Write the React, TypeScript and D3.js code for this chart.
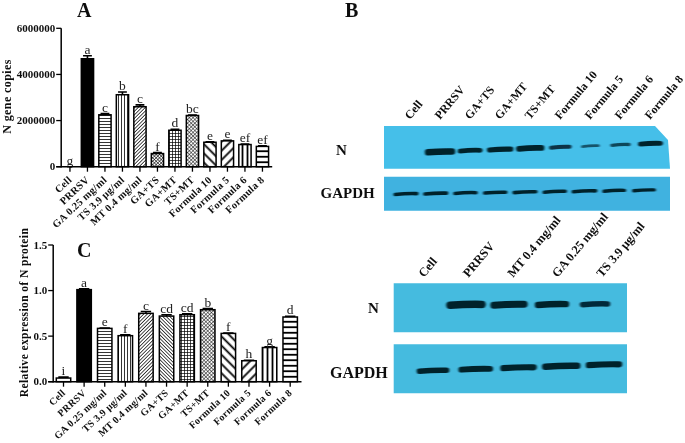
import React from "react";
import * as d3 from "d3";

const categories = ["Cell","PRRSV","GA 0.25 mg/ml","TS 3.9 μg/ml","MT 0.4  mg/ml","GA+TS","GA+MT","TS+MT","Formula 10","Formula 5","Formula 6","Formula 8"];
const valuesA = [0,4680000,2250000,3120000,2600000,570000,1580000,2220000,1060000,1120000,960000,880000];
const errorsA = [0,130000,50000,120000,80000,40000,40000,20000,20000,20000,20000,30000];
const lettersA = ["g","a","c","b","c","f","d","bc","e","e","ef","ef"];
const ticksA = [0,2000000,4000000,6000000];
const valuesC = [0.04,1.01,0.585,0.505,0.75,0.72,0.735,0.79,0.53,0.23,0.375,0.71];
const errorsC = [0.01,0.01,0.005,0.01,0.02,0.015,0.01,0.012,0.005,0.005,0.008,0.008];
const lettersC = ["i","a","e","f","c","cd","cd","b","f","h","g","d"];
const ticksC = [0,0.5,1,1.5];
const patternsA = ["none","solid","hLines","vLines","diagDense","dots","grid","cross","wideBack","wideFwd","thickV","thickH"];
const patternsC = ["none","solid","hLines","vLines","diagDense","backDense","grid","cross","wideBack","wideFwd","thickV","thickH"];

const lanesB = ["Cell","PRRSV","GA+TS","GA+MT","TS+MT","Formula 10","Formula 5","Formula 6","Formula 8"];
const signalB = [0,1,0.62,0.72,0.85,0.45,0.18,0.3,0.62];
const loadB = [0.72,0.72,0.7,0.7,0.72,0.7,0.74,0.68,0.68];
const lanesD = ["Cell","PRRSV","MT 0.4 mg/ml","GA 0.25 mg/ml","TS 3.9 μg/ml"];
const signalD = [0,1,0.88,0.72,0.5];
const loadD = [0.85,0.9,0.95,1,0.95];

const FONT = "'Liberation Serif', serif";

function fillFor(p: string) {
  if (p === "none") return "#fff";
  if (p === "solid") return "#000";
  return `url(#${p})`;
}

function Bars({ values, errors, letters, ticks, patterns, x0, x1, y0, y1, max, fmt, title, titleX, titleY, yLabel, yLabelX, yLabelSize, tickSize, yLabelCy, labelDy }: any) {
  const x = d3.scaleBand<string>().domain(categories).range([x0, x1]).paddingInner(0.3).paddingOuter(0.15);
  const y = d3.scaleLinear().domain([0, max]).range([y0, y1]);
  const bw = x.bandwidth();
  return (
    <g fontFamily={FONT}>
      {values.map((v: number, i: number) => {
        const c = categories[i];
        const X = x(c)!;
        const top = y(v + errors[i]);
        const cx = X + bw / 2;
        return (
          <g key={c}>
            {errors[i] > 0 && <path d={`M${cx},${y(v)}V${top}M${cx - bw * 0.36},${top}H${cx + bw * 0.36}`} stroke="#000" strokeWidth={1.6} fill="none" />}
            <rect x={X} y={y(v)} width={bw} height={y0 - y(v)} fill={fillFor(patterns[i])} stroke="#000" strokeWidth={1.5} />
            <text x={cx} y={top - 2} textAnchor="middle" fontSize={13.5} fill="#222">{letters[i]}</text>
            <text transform={`translate(${cx + 2.5},${y0 + labelDy}) rotate(-43)`} textAnchor="end" fontSize={tickSize} fontWeight="bold" letterSpacing={0.25} fill="#111">{c}</text>
            <line x1={cx} x2={cx} y1={y0} y2={y0 + 5} stroke="#000" strokeWidth={1.3} />
          </g>
        );
      })}
      <line x1={x0} x2={x0} y1={y1} y2={y0 + 0.7} stroke="#000" strokeWidth={1.5} />
      <line x1={x0 - 5} x2={x1 + 1} y1={y0} y2={y0} stroke="#000" strokeWidth={1.5} />
      {ticks.map((t: number) => (
        <g key={t}>
          <line x1={x0 - 5} x2={x0} y1={y(t)} y2={y(t)} stroke="#000" strokeWidth={1.3} />
          <text x={x0 - 6} y={y(t) + 3.6} textAnchor="end" fontSize={11} fontWeight="bold" fill="#111">{fmt(t)}</text>
        </g>
      ))}
      <text transform={`translate(${yLabelX},${yLabelCy}) rotate(-90)`} textAnchor="middle" fontSize={yLabelSize} fontWeight="bold" letterSpacing={0.4} fill="#111">{yLabel}</text>
      <text x={titleX} y={titleY} fontSize={20} fontWeight="bold" fill="#111">{title}</text>
    </g>
  );
}

function Blot({ x0, x1, y0, y1, lanes, signal, laneFrom, laneTo, yFrom, yTo, wMin, wMax, tMin, tMax, color, notch }: any) {
  const lx = d3.scalePoint<string>().domain(lanes).range([laneFrom, laneTo]);
  const ly = d3.scaleLinear().domain([0, lanes.length - 1]).range([yFrom, yTo]);
  const wid = d3.scaleLinear().domain([0, 1]).range([wMin, wMax]);
  const thick = d3.scaleLinear().domain([0, 1]).range([tMin, tMax]);
  const dark = d3.scaleLinear().domain([0.1, 0.6]).range([0.6, 1]).clamp(true);
  const bg = notch
    ? `M${x0},${y0}H${x1 - 15}L${x1 - 2},${y0 + 14}L${x1},${y1}H${x0}Z`
    : `M${x0},${y0}H${x1}V${y1}H${x0}Z`;
  return (
    <g>
      <path d={bg} fill={color} />
      {lanes.map((l: string, i: number) => {
        const s = signal[i];
        if (s <= 0) return null;
        const cx = lx(l)!;
        const cy = ly(i);
        const w = wid(s) / 2;
        const t = thick(s);
        return <path key={l} d={`M${cx - w},${cy + 0.5}Q${cx},${cy - 0.7} ${cx + w},${cy - 0.4}`} stroke="#03202c" strokeOpacity={dark(s)} strokeWidth={t} strokeLinecap="round" fill="none" filter="url(#bandBlur)" />;
      })}
    </g>
  );
}

function LaneLabels({ labels, from, to, y, rot, size }: any) {
  const lx = d3.scalePoint<string>().domain(labels).range([from, to]);
  return (
    <g fontFamily={FONT} fontWeight="bold" fontSize={size} fill="#111">
      {labels.map((l: string) => (
        <text key={l} transform={`translate(${lx(l)},${y}) rotate(${rot})`}>{l}</text>
      ))}
    </g>
  );
}

function Pattern({ id, size, d, sw, angle }: any) {
  return (
    <pattern id={id} width={size} height={size} patternUnits="userSpaceOnUse" patternTransform={angle ? `rotate(${angle})` : undefined}>
      <rect width={size} height={size} fill="#fff" />
      <path d={d} stroke="#000" strokeWidth={sw} fill="none" />
    </pattern>
  );
}

export default function App() {
  return (
    <svg width={685} height={443} style={{ position: "absolute", left: 0, top: 0, background: "#fff" }}>
      <defs>
        <filter id="bandBlur" filterUnits="userSpaceOnUse" x="0" y="0" width="685" height="443"><feGaussianBlur stdDeviation="0.9 0.6" /></filter>
        <filter id="soft" filterUnits="userSpaceOnUse" x="0" y="0" width="685" height="443"><feGaussianBlur stdDeviation="0.35" /></filter>
        <Pattern id="hLines" size={3} d="M0,1.5H3" sw={0.8} />
        <Pattern id="vLines" size={3} d="M1.5,0V3" sw={0.8} />
        <Pattern id="diagDense" size={2.5} d="M1.25,0V2.5" sw={0.7} angle={45} />
        <Pattern id="backDense" size={2.5} d="M1.25,0V2.5" sw={0.7} angle={-45} />
        <Pattern id="dots" size={2.4} d="M1.2,0V2.4M0,1.2H2.4" sw={0.55} angle={45} />
        <Pattern id="grid" size={3} d="M1.5,0V3M0,1.5H3" sw={0.7} />
        <Pattern id="cross" size={2.6} d="M1.3,0V2.6M0,1.3H2.6" sw={0.5} angle={45} />
        <Pattern id="wideBack" size={6.5} d="M3.25,0V6.5" sw={1.8} angle={-45} />
        <Pattern id="wideFwd" size={6.5} d="M3.25,0V6.5" sw={1.8} angle={45} />
        <Pattern id="thickV" size={5} d="M2.5,0V5" sw={1.8} />
        <Pattern id="thickH" size={5.5} d="M0,2.75H5.5" sw={1.8} />
      </defs>
      <g filter="url(#soft)">
        <Bars values={valuesA} errors={errorsA} letters={lettersA} ticks={ticksA} patterns={patternsA} x0={61.2} x1={271.2} y0={166.7} y1={28.3} max={6000000} fmt={(t: number) => String(t)} title="A" titleX={77} titleY={17} yLabel="N gene copies" yLabelX={11} yLabelCy={96.5} yLabelSize={12} tickSize={10.4} labelDy={14} />
        <Bars values={valuesC} errors={errorsC} letters={lettersC} ticks={ticksC} patterns={patternsC} x0={53.2} x1={300.5} y0={381.7} y1={245} max={1.5} fmt={(t: number) => t.toFixed(1)} title="C" titleX={77} titleY={257} yLabel="Relative expression of N protein" yLabelX={28} yLabelCy={312.5} yLabelSize={11.5} tickSize={10} labelDy={12} />

        <text x={345} y={17} fontFamily={FONT} fontSize={20} fontWeight="bold" fill="#111">B</text>
        <LaneLabels labels={lanesB} from={410} to={650} y={120} rot={-50} size={11.8} />
        <Blot x0={384} x1={670} y0={126} y1={168.7} lanes={lanesB} signal={signalB} laneFrom={410} laneTo={650.5} yFrom={153} yTo={143.7} wMin={14} wMax={24} tMin={2} tMax={6.5} color="#44bfe9" notch />
        <Blot x0={384} x1={670} y0={176.7} y1={210.7} lanes={lanesB} signal={loadB} laneFrom={406} laneTo={644} yFrom={194} yTo={190.3} wMin={0} wMax={30} tMin={0} tMax={5} color="#3fb2e0" />
        <text x={336} y={155} fontFamily={FONT} fontSize={15} fontWeight="bold" fill="#111">N</text>
        <text x={320.5} y={198} fontFamily={FONT} fontSize={15} fontWeight="bold" fill="#111">GAPDH</text>

        <LaneLabels labels={lanesD} from={424} to={602} y={278} rot={-50} size={12.4} />
        <Blot x0={393.7} x1={627} y0={283.3} y1={332.3} lanes={lanesD} signal={signalD} laneFrom={423} laneTo={595} yFrom={305} yTo={304.3} wMin={18} wMax={32} tMin={3.5} tMax={7.5} color="#45bbdf" />
        <Blot x0={393.7} x1={627} y0={344.3} y1={393.3} lanes={lanesD} signal={loadD} laneFrom={433} laneTo={604} yFrom={370.7} yTo={364.7} wMin={0} wMax={32} tMin={0} tMax={6.5} color="#45bbdf" />
        <text x={368} y={313} fontFamily={FONT} fontSize={15} fontWeight="bold" fill="#111">N</text>
        <text x={330} y={378} fontFamily={FONT} fontSize={16} fontWeight="bold" fill="#111">GAPDH</text>
      </g>
    </svg>
  );
}
